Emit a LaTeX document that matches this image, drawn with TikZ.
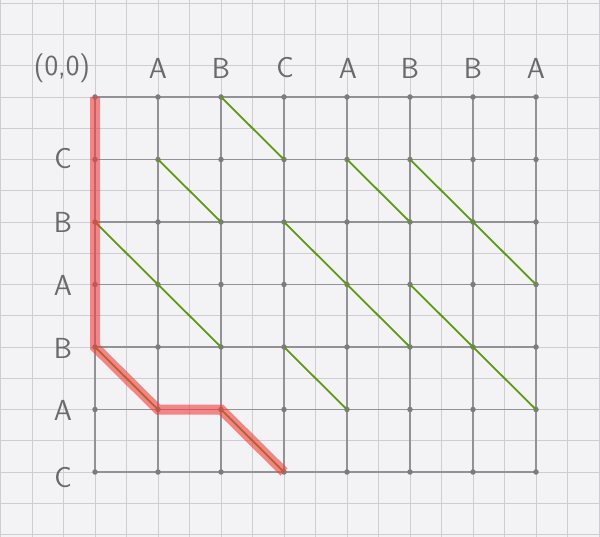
\documentclass[tikz,border=0pt]{standalone}
\usetikzlibrary{calc}
\definecolor{paper}{HTML}{F3F3F6}
\definecolor{fineline}{HTML}{CDCDD3}
\definecolor{pencil}{HTML}{929296}
\definecolor{ink}{HTML}{6A6A6E}
\definecolor{matchgreen}{HTML}{5C9A12}
\definecolor{pathred}{HTML}{F23C3C}
\tikzset{
  fine/.style={draw=fineline, line width=0.9pt},
  gridline/.style={draw=pencil, line width=1.2pt},
  gdot/.style={circle, fill=pencil!85!black, inner sep=0pt, minimum size=5.5pt},
  match/.style={draw=matchgreen, line width=1.8pt},
  lcs/.style={draw=pathred, opacity=0.6, line width=10pt, line join=miter, line cap=butt},
  lab/.style={text=ink, font=\sffamily\fontsize{29}{31}\selectfont, inner sep=0pt}
}
\begin{document}
\begin{tikzpicture}[x=1pt,y=-1pt]
\fill[paper] (0,0) rectangle (600,537);
\useasboundingbox (0,0) rectangle (600,537);
% graph paper
\foreach \k in {-3,...,16} \draw[fine] ({95+31.5*\k},0) -- ({95+31.5*\k},537);
\foreach \k in {-3,...,14} \draw[fine] (0,{97+31.25*\k}) -- (600,{97+31.25*\k});
% grid points
\foreach \i in {0,...,7} \foreach \j in {0,...,6}
  \coordinate (p\i-\j) at ({95+63*\i},{97+62.5*\j});
% grid lines
\foreach \j in {0,...,6} \draw[gridline] (p0-\j) -- (p7-\j);
\foreach \i in {0,...,7} \draw[gridline] (p\i-0) -- (p\i-6);
% dots
\foreach \i in {0,...,7} \foreach \j in {0,...,6}
  \node[gdot] (d\i-\j) at (p\i-\j) {};
% match diagonals
\draw[match] (p2-0) -- (p3-1);
\draw[match] (p1-1) -- (p2-2);
\draw[match] (p4-1) -- (p5-2);
\draw[match] (p5-1) -- (p6-2) -- (p7-3);
\draw[match] (p0-2) -- (p1-3) -- (p2-4);
\draw[match] (p3-2) -- (p4-3) -- (p5-4);
\draw[match] (p5-3) -- (p6-4) -- (p7-5);
\draw[match] (p3-4) -- (p4-5);
\draw[match] (p0-4) -- (p1-5);
\draw[match] (p2-5) -- (p3-6);
% LCS path
\draw[lcs] (p0-0) -- (p0-4) -- (p1-5) -- (p2-5) -- (p3-6);
% labels
\node[lab] (origin) at (62,68) {(0,0)};
\node[lab] (t1) at (158,68) {A};
\node[lab] (t2) at (221,68) {B};
\node[lab] (t3) at (285,68) {C};
\node[lab] (t4) at (348,68) {A};
\node[lab] (t5) at (410,68) {B};
\node[lab] (t6) at (473,68) {B};
\node[lab] (t7) at (536,68) {A};
\node[lab] (l1) at (63,159) {C};
\node[lab] (l2) at (63,222) {B};
\node[lab] (l3) at (63,285) {A};
\node[lab] (l4) at (63,348) {B};
\node[lab] (l5) at (63,410) {A};
\node[lab] (l6) at (63,478) {C};
\end{tikzpicture}
\end{document}
